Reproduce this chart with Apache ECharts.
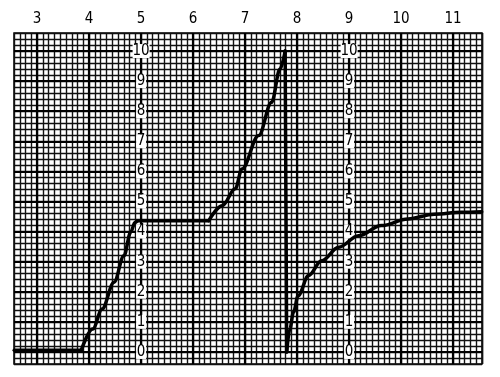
<!DOCTYPE html>
<html><head><meta charset="utf-8">
<script src="https://cdn.jsdelivr.net/npm/echarts@6/dist/echarts.min.js"></script>
<style>html,body{margin:0;padding:0;background:#fff}#c{width:500px;height:377px}</style>
</head><body><div id="c"></div>
<script>
// Tick labels
var xTickLabels = [3, 4, 5, 6, 7, 8, 9, 10, 11];
var yTickLabels = [0, 1, 2, 3, 4, 5, 6, 7, 8, 9, 10];
var yLabelColumns = [5, 9];
// Curve segments [x, y]
var flatStart = [[2.56, 0.06], [3.85, 0.06]];
var firstRise = [[3.85, 0.06], [4.07, 0.76], [4.25, 1.43], [4.48, 2.32], [4.67, 3.2], [4.80, 3.98], [4.88, 4.3], [4.93, 4.36]];
var plateau = [[4.93, 4.36], [6.30, 4.36]];
var secondRise = [[6.30, 4.36], [6.56, 4.86], [6.81, 5.42], [6.94, 6.08], [7.26, 7.19], [7.51, 8.30], [7.67, 9.40], [7.77, 10.0]];
var drop = [[7.77, 10.0], [7.80, 0]];
var recovery = [[7.80, 0], [7.86, 0.76], [7.93, 1.32], [8.02, 1.87], [8.22, 2.54], [8.47, 3.03], [8.80, 3.48], [9.18, 3.86], [9.62, 4.20], [10.13, 4.42], [10.64, 4.58], [11.15, 4.64], [11.55, 4.66]];

var FONT = "'DejaVu Sans Condensed','Liberation Sans Narrow',sans-serif";
var labelPts = [];
yLabelColumns.forEach(function (cx) { yTickLabels.forEach(function (v) { labelPts.push([cx, v]); }); });

var majorLines = xTickLabels.map(function (v) { return { xAxis: v }; })
  .concat(yTickLabels.map(function (v) { return { yAxis: v }; }));

function curve(data, smooth) {
  return { type: 'line', data: data, symbol: 'none', smooth: smooth ? 0.35 : false, smoothMonotone: 'x',
    lineStyle: { color: '#000', width: 3.5, cap: 'round', join: 'round' }, z: 30, animation: false };
}

var chart = echarts.init(document.getElementById('c'));
chart.setOption({
  backgroundColor: '#fff',
  animation: false,
  grid: { left: 14, top: 33, width: 468, height: 331, show: true, borderColor: '#000', borderWidth: 1.5, backgroundColor: 'transparent' },
  xAxis: {
    type: 'value', position: 'top', min: 23 / 9, max: 104 / 9, interval: 1 / 9,
    axisLine: { show: false }, axisTick: { show: false },
    axisLabel: {
      interval: 0, margin: 6, color: '#000', fontSize: 15, fontFamily: FONT,
      formatter: function (v) { var r = Math.round(v); return Math.abs(v - r) < 1e-6 && xTickLabels.indexOf(r) >= 0 ? String(r) : ''; }
    },
    splitLine: { show: true, lineStyle: { color: '#111', width: 1.4 } }
  },
  yAxis: {
    type: 'value', min: -0.4, max: 10.6, interval: 0.2,
    axisLine: { show: false }, axisTick: { show: false }, axisLabel: { show: false },
    splitLine: { show: true, lineStyle: { color: '#111', width: 1.4 } }
  },
  series: [
    {
      type: 'line', data: [], z: 3, animation: false, silent: true,
      markLine: { z: 3, silent: true, symbol: ['none', 'none'], label: { show: false }, animation: false,
        lineStyle: { color: '#000', width: 2.2, type: 'solid' }, data: majorLines }
    },
    curve(flatStart, false),
    curve(firstRise, true),
    curve(plateau, false),
    curve(secondRise, true),
    curve(drop, false),
    curve(recovery, true),
    {
      type: 'scatter', data: labelPts, symbol: 'rect', z: 20, animation: false, silent: true,
      symbolSize: function (v) { return v[1] >= 10 ? [17, 14] : [10, 14]; },
      itemStyle: { color: '#fff', opacity: 1 },
      label: { show: true, position: 'inside', color: '#000', fontSize: 15, fontFamily: FONT,
        textBorderWidth: 0, textBorderColor: 'transparent',
        formatter: function (p) { return String(p.value[1]); } }
    }
  ]
});
</script></body></html>
